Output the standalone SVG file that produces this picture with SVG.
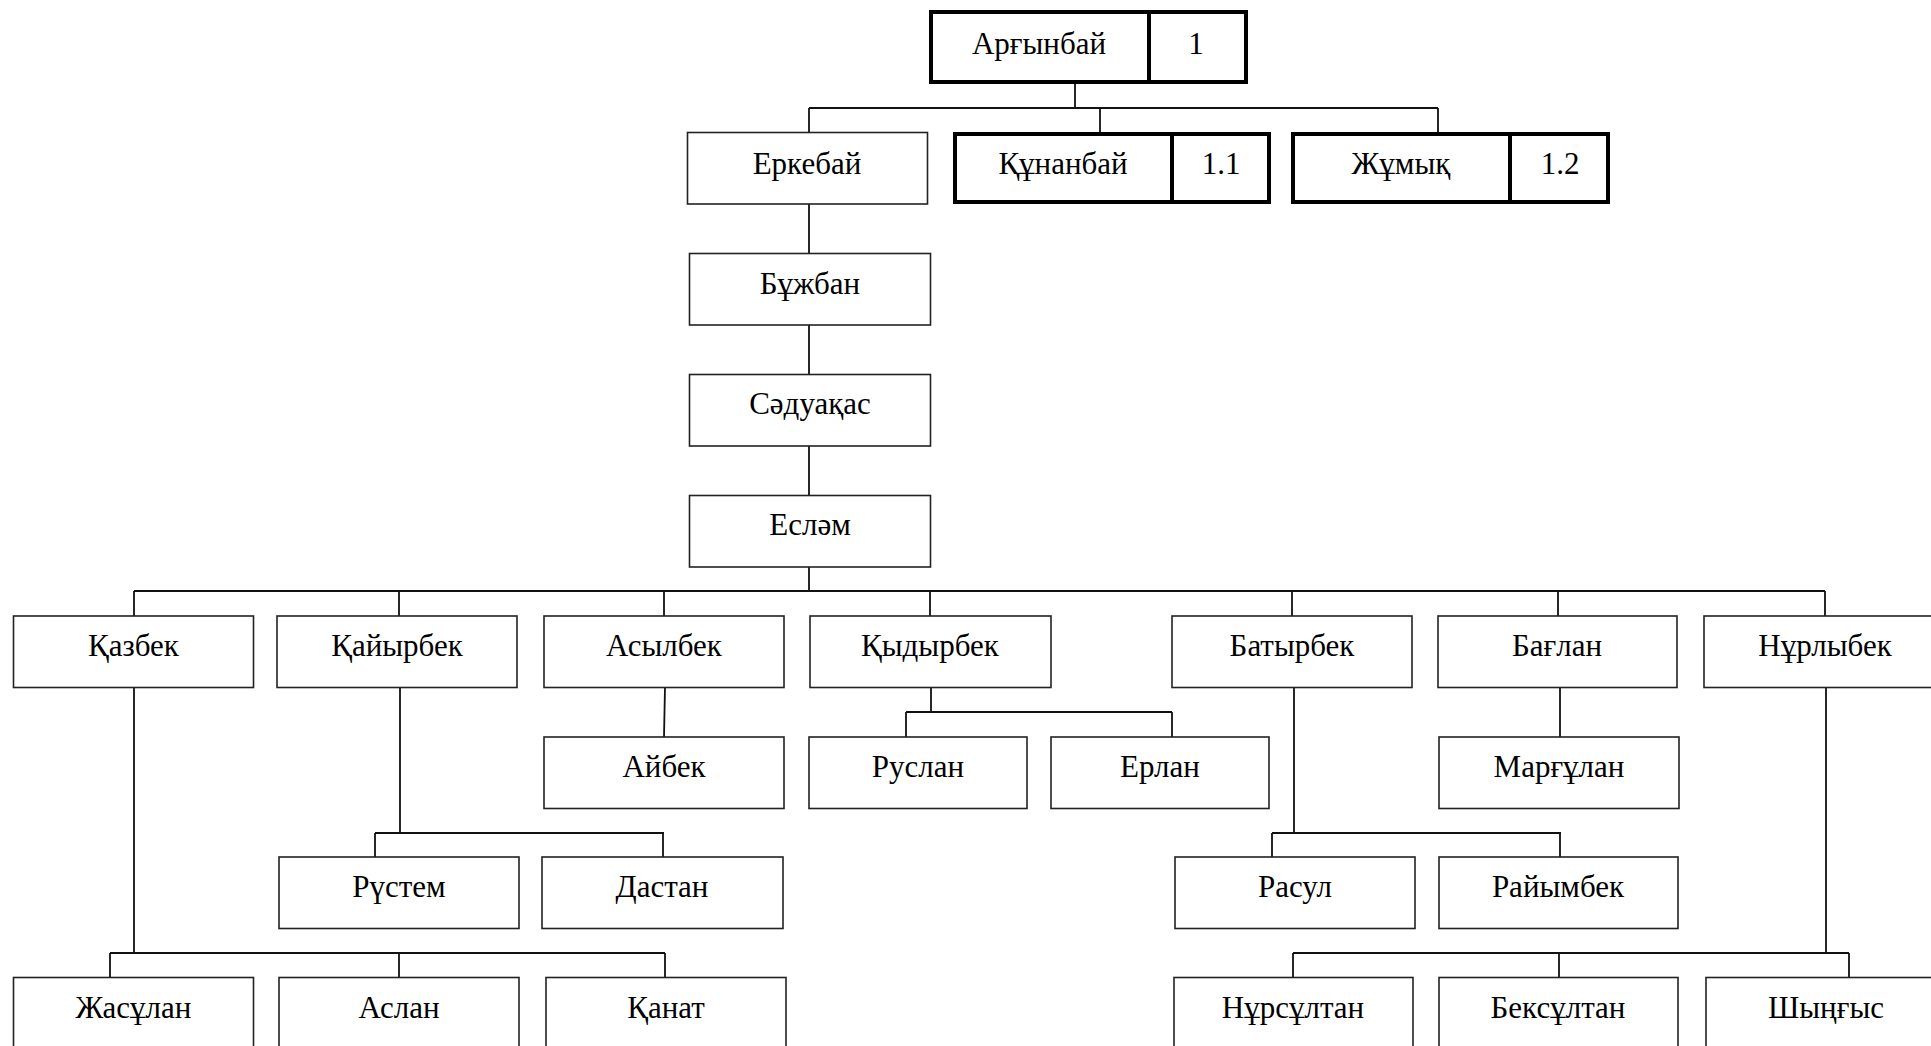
<svg xmlns="http://www.w3.org/2000/svg" width="1931" height="1046" viewBox="0 0 1931 1046">
<style>
.b{fill:#fff;stroke:#222;stroke-width:1.6}
.t{fill:#fff;stroke:#000;stroke-width:4}
.d{stroke:#000;stroke-width:4}
text{font-family:"Liberation Serif","Times New Roman",serif;font-size:31px;fill:#000;text-anchor:middle}
#connectors path{fill:none;stroke:#111;stroke-width:1.8}
</style>
<rect width="1931" height="1046" fill="#fff"/>
<g id="connectors">
<path d="M1075 84V108M809 108H1438M809 108V132M1100 108V134M1438 108V134"/>
<path d="M809 204V253M809 325V374M809 446V495M809 567V591"/>
<path d="M134 591H1825M134 591V616M399 591V616M664 591V616M930 591V616M1292 591V616M1558 591V616M1825 591V616"/>
<path d="M665 687L664 737"/>
<path d="M931 687V712M906 712H1172M906 712V737M1172 712V737"/>
<path d="M1560 687V737"/>
<path d="M400 687V833M375 833H664M375 833V857M663 833V857"/>
<path d="M1294 687V833M1272 833H1561M1272 833V857M1560 833V857"/>
<path d="M134 687V953M110 953H665M110 953V977M399 953V977M665 953V977"/>
<path d="M1826 687V953M1293 953H1849M1293 953V977M1559 953V977M1849 953V977"/>
</g>
<g id="n-argynbai"><rect class="t" x="931" y="12" width="315" height="70"/><line class="d" x1="1149" y1="12" x2="1149" y2="82"/><text x="1039" y="54">Арғынбай</text><text x="1196" y="54">1</text></g>
<g id="n-kunanbai"><rect class="t" x="955" y="134" width="314" height="68"/><line class="d" x1="1172" y1="134" x2="1172" y2="202"/><text x="1063" y="174">Құнанбай</text><text x="1221" y="174">1.1</text></g>
<g id="n-zhumyk"><rect class="t" x="1293" y="134" width="315" height="68"/><line class="d" x1="1510" y1="134" x2="1510" y2="202"/><text x="1401" y="174">Жұмық</text><text x="1560" y="174">1.2</text></g>
<g id="n-erkebai"><rect class="b" x="687.5" y="132.5" width="240" height="71.5"/><text x="807" y="174">Еркебай</text></g>
<g id="n-buzhban"><rect class="b" x="689.5" y="253.5" width="241" height="71.5"/><text x="810" y="294">Бұжбан</text></g>
<g id="n-saduakas"><rect class="b" x="689.5" y="374.5" width="241" height="71.5"/><text x="810" y="414">Сәдуақас</text></g>
<g id="n-eslam"><rect class="b" x="689.5" y="495.5" width="241" height="71.5"/><text x="810" y="535">Есләм</text></g>
<g id="n-kazbek"><rect class="b" x="13.5" y="616" width="240" height="71.5"/><text x="133.5" y="656">Қазбек</text></g>
<g id="n-kaiyrbek"><rect class="b" x="277" y="616" width="240" height="71.5"/><text x="397" y="656">Қайырбек</text></g>
<g id="n-asylbek"><rect class="b" x="544" y="616" width="240" height="71.5"/><text x="664" y="656">Асылбек</text></g>
<g id="n-kydyrbek"><rect class="b" x="810" y="616" width="241" height="71.5"/><text x="930" y="656">Қыдырбек</text></g>
<g id="n-batyrbek"><rect class="b" x="1172" y="616" width="240" height="71.5"/><text x="1292" y="656">Батырбек</text></g>
<g id="n-baglan"><rect class="b" x="1438" y="616" width="239" height="71.5"/><text x="1557" y="656">Бағлан</text></g>
<g id="n-nurlybek"><rect class="b" x="1704" y="616" width="242" height="71.5"/><text x="1825" y="656">Нұрлыбек</text></g>
<g id="n-aibek"><rect class="b" x="544" y="737" width="240" height="71.5"/><text x="664" y="777">Айбек</text></g>
<g id="n-ruslan"><rect class="b" x="809" y="737" width="218" height="71.5"/><text x="918" y="777">Руслан</text></g>
<g id="n-erlan"><rect class="b" x="1051" y="737" width="218" height="71.5"/><text x="1160" y="777">Ерлан</text></g>
<g id="n-margulan"><rect class="b" x="1439" y="737" width="240" height="71.5"/><text x="1559" y="777">Марғұлан</text></g>
<g id="n-rustem"><rect class="b" x="279" y="857" width="240" height="71.5"/><text x="399" y="897">Рүстем</text></g>
<g id="n-dastan"><rect class="b" x="542" y="857" width="241" height="71.5"/><text x="662" y="897">Дастан</text></g>
<g id="n-rasul"><rect class="b" x="1175" y="857" width="240" height="71.5"/><text x="1295" y="897">Расул</text></g>
<g id="n-raiymbek"><rect class="b" x="1439" y="857" width="239" height="71.5"/><text x="1558" y="897">Райымбек</text></g>
<g id="n-zhasulan"><rect class="b" x="13.5" y="977.5" width="240" height="71.5"/><text x="133.5" y="1018">Жасұлан</text></g>
<g id="n-aslan"><rect class="b" x="279" y="977.5" width="240" height="71.5"/><text x="399" y="1018">Аслан</text></g>
<g id="n-kanat"><rect class="b" x="546" y="977.5" width="240" height="71.5"/><text x="666" y="1018">Қанат</text></g>
<g id="n-nursultan"><rect class="b" x="1174" y="977.5" width="239" height="71.5"/><text x="1293" y="1018">Нұрсұлтан</text></g>
<g id="n-beksultan"><rect class="b" x="1439" y="977.5" width="239" height="71.5"/><text x="1558" y="1018">Бексұлтан</text></g>
<g id="n-shyngys"><rect class="b" x="1706" y="977.5" width="240" height="71.5"/><text x="1826" y="1018">Шыңғыс</text></g>
</svg>
